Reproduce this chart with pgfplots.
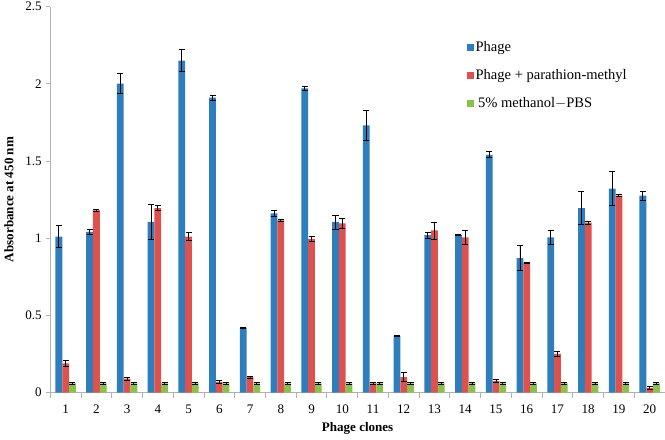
\documentclass[border=0pt]{standalone}
\usepackage{pgfplots}
\usepackage{pgfplotstable}
\pgfplotsset{compat=1.18}
\usepackage{fontspec}
\setmainfont{Liberation Serif}
\definecolor{cblue}{RGB}{46,126,190}
\definecolor{cred}{RGB}{221,82,78}
\definecolor{cgreen}{RGB}{140,192,76}
\definecolor{axgray}{RGB}{178,178,178}
\pgfplotstableread{
c b be r re g ge
1 1.01 0.07 0.19 0.02 0.06 0.004
2 1.04 0.015 1.18 0.008 0.06 0.004
3 2.00 0.065 0.09 0.01 0.06 0.004
4 1.105 0.115 1.195 0.015 0.06 0.004
5 2.15 0.07 1.01 0.025 0.06 0.004
6 1.91 0.015 0.07 0.008 0.06 0.004
7 0.42 0.004 0.10 0.008 0.06 0.004
8 1.16 0.02 1.115 0.006 0.06 0.004
9 1.97 0.015 0.995 0.015 0.06 0.004
10 1.105 0.045 1.095 0.03 0.06 0.004
11 1.73 0.1 0.06 0.004 0.06 0.004
12 0.365 0.004 0.10 0.03 0.06 0.004
13 1.02 0.02 1.05 0.055 0.06 0.004
14 1.02 0.004 1.005 0.045 0.06 0.004
15 1.54 0.02 0.075 0.008 0.06 0.004
16 0.87 0.08 0.84 0.006 0.06 0.004
17 1.005 0.045 0.25 0.015 0.06 0.004
18 1.195 0.105 1.10 0.01 0.06 0.004
19 1.32 0.11 1.275 0.006 0.06 0.004
20 1.275 0.03 0.03 0.01 0.06 0.006
}\datatable
\begin{document}
\fontsize{13bp}{15bp}\selectfont
\begin{tikzpicture}
\begin{axis}[
  scale only axis,
  width=613bp, height=385bp,
  ybar=0pt,
  bar width=0.22,
  xmin=0.5, xmax=20.5,
  ymin=0, ymax=2.5,
  axis x line*=bottom, axis y line*=left,
  axis line style={draw=axgray, line width=0.8bp},
  xtick={1,...,20},
  major x tick style={draw=none},
  minor xtick={0.5,1.5,...,20.5},
  minor tick length=5bp,
  minor x tick style={draw=axgray, line width=0.8bp},
  ytick={0,0.5,1,1.5,2,2.5},
  yticklabels={0,0.5,1,1.5,2,2.5},
  major tick length=4bp,
  major y tick style={draw=axgray, line width=0.8bp},
  tick align=outside,
  /pgf/number format/assume math mode=true,
  ticklabel style={font=\fontsize{13bp}{15bp}\selectfont, text=black},
  xticklabel style={yshift=-4bp},
  xlabel={\textbf{Phage clones}},
  ylabel={\textbf{Absorbance at 450 nm}},
  label style={font=\fontsize{13bp}{15bp}\selectfont},
  ylabel style={yshift=3bp},
  legend style={draw=none, fill=none, at={(0.672,0.92)}, anchor=north west,
    font=\fontsize{14.5bp}{16bp}\selectfont, row sep=12bp,
    legend cell align=left},
  legend image code/.code={\fill[#1,draw=none] (0bp,-3.5bp) rectangle (7bp,3.5bp);},
  error bars/error bar style={black, line width=0.8bp},
  error bars/error mark options={black, rotate=90, mark size=3bp, line width=0.8bp},
]
\addplot[fill=cblue, draw=none,
  error bars/.cd, y dir=both, y explicit]
  table[x=c, y=b, y error=be]{\datatable};
\addlegendentry{Phage}
\addplot[fill=cred, draw=none,
  error bars/.cd, y dir=both, y explicit]
  table[x=c, y=r, y error=re]{\datatable};
\addlegendentry{Phage + parathion-methyl}
\addplot[fill=cgreen, draw=none,
  error bars/.cd, y dir=both, y explicit]
  table[x=c, y=g, y error=ge]{\datatable};
\addlegendentry{\,5\% methanol$-$PBS}
\end{axis}
\pgfresetboundingbox
\path (current axis.outer south west) rectangle ([yshift=6.5bp]current axis.north -| current axis.east);
\end{tikzpicture}
\end{document}
